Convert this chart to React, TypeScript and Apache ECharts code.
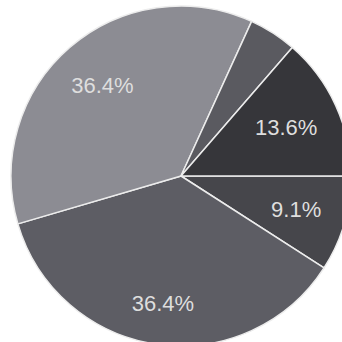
import React, { useEffect, useRef } from "react";
import * as echarts from "echarts";

// Slices listed clockwise starting from the 3 o'clock direction
const sliceNames = ["A", "B", "C", "D", "E"];
const sliceValues = [2, 8, 8, 1, 3];
const sliceColors = ["#46464b", "#5d5d64", "#8c8c93", "#5a5a60", "#36363a"];
const showLabel = [true, true, true, false, true];
const labelOffsets: [number, number][] = [[0, 0], [-1, 9], [0, 0], [0, 0], [-4, 1]];

export default function App() {
  const ref = useRef<HTMLDivElement>(null);
  useEffect(() => {
    if (!ref.current) return;
    const chart = echarts.init(ref.current, undefined, { renderer: "svg" });
    const base = sliceNames.map((n, i) => ({
      name: n,
      value: sliceValues[i],
      itemStyle: { color: sliceColors[i] },
    }));
    const labelData = sliceNames.map((n, i) => ({
      name: n,
      value: sliceValues[i],
      label: { show: showLabel[i], offset: labelOffsets[i] },
    }));
    chart.setOption({
      animation: false,
      backgroundColor: "#ffffff",
      series: [
        {
          type: "pie",
          center: [181, 176],
          radius: 170,
          startAngle: 0,
          clockwise: true,
          label: { show: false },
          labelLine: { show: false },
          itemStyle: { borderColor: "#ececec", borderWidth: 1.5 },
          emphasis: { disabled: true },
          data: base,
        },
        {
          type: "pie",
          center: [181, 176],
          radius: [64, 170],
          startAngle: 0,
          clockwise: true,
          silent: true,
          percentPrecision: 1,
          itemStyle: { color: "transparent", borderWidth: 0 },
          label: {
            show: true,
            position: "inside",
            formatter: "{d}%",
            color: "#dedede",
            fontFamily: "Liberation Sans, Arial, sans-serif",
            fontSize: 22,
          },
          labelLine: { show: false },
          emphasis: { disabled: true },
          data: labelData,
        },
      ],
    });
    return () => chart.dispose();
  }, []);
  return (
    <div
      ref={ref}
      style={{ position: "fixed", left: 0, top: 0, width: 342, height: 342 }}
    />
  );
}
